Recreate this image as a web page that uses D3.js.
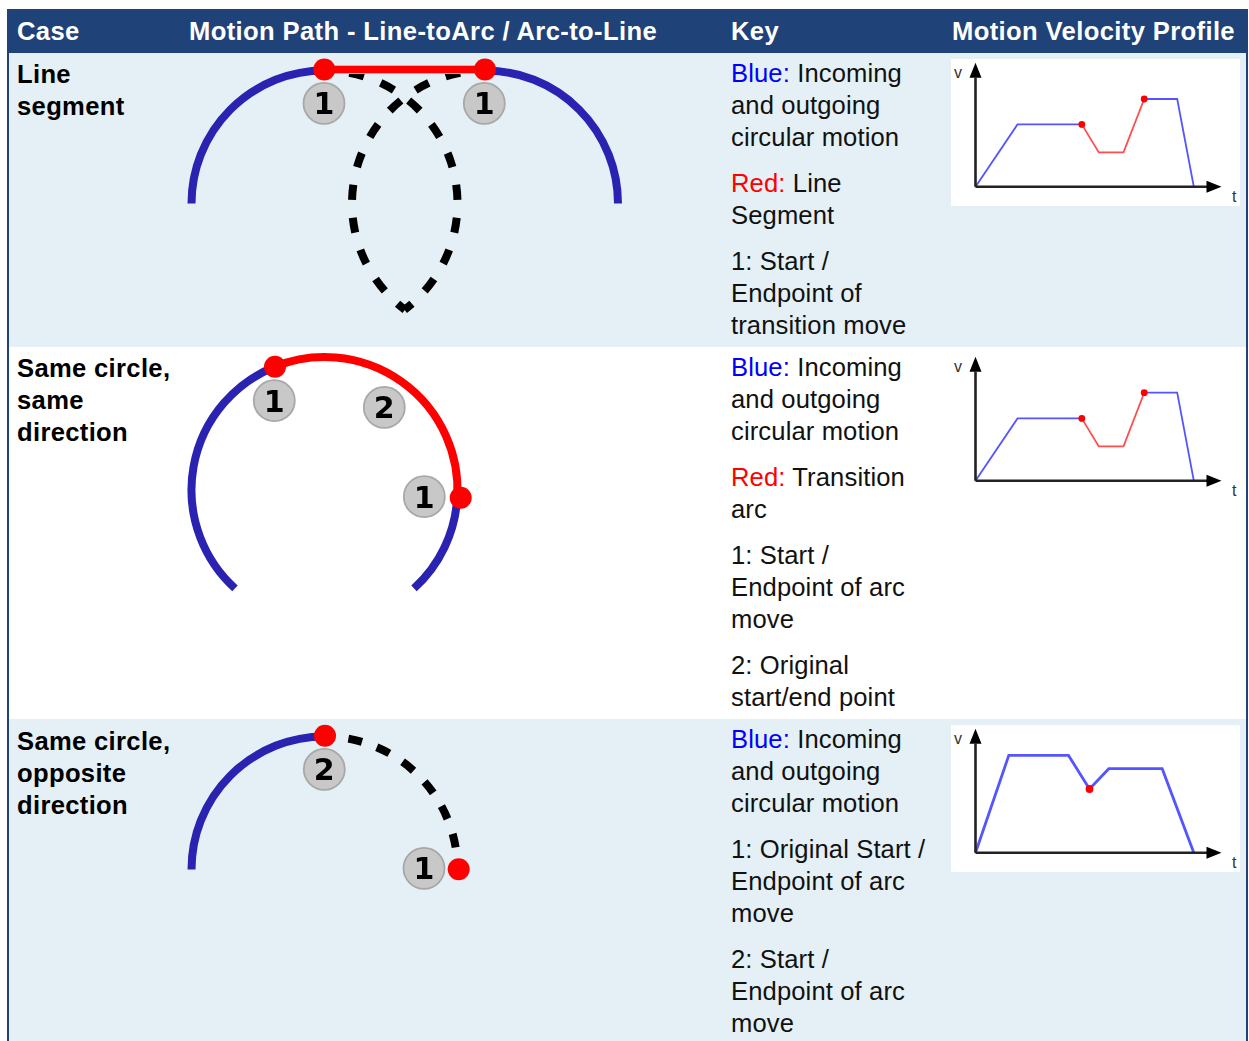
<!DOCTYPE html>
<html>
<head>
<meta charset="utf-8">
<script src="https://cdn.jsdelivr.net/npm/d3@7"></script>
<style>
html,body{margin:0;padding:0;background:#fff;overflow:hidden}
svg{display:block}
text{font-family:"Liberation Sans",Arial,sans-serif}
</style>
</head>
<body>
<div id="chart"></div>
<script>
// ---- table content ----
const headers = ["Case", "Motion Path - Line-toArc / Arc-to-Line", "Key", "Motion Velocity Profile"];
const caseLabels = [
  ["Line", "segment"],
  ["Same circle,", "same", "direction"],
  ["Same circle,", "opposite", "direction"]
];
const keyRow1 = [
  [["Blue:", "blue"], [" Incoming"]], [["and outgoing"]], [["circular motion"]], null,
  [["Red:", "red"], [" Line"]], [["Segment"]], null,
  [["1: Start /"]], [["Endpoint of"]], [["transition move"]]
];
const keyRow2 = [
  [["Blue:", "blue"], [" Incoming"]], [["and outgoing"]], [["circular motion"]], null,
  [["Red:", "red"], [" Transition"]], [["arc"]], null,
  [["1: Start /"]], [["Endpoint of arc"]], [["move"]], null,
  [["2: Original"]], [["start/end point"]]
];
const keyRow3 = [
  [["Blue:", "blue"], [" Incoming"]], [["and outgoing"]], [["circular motion"]], null,
  [["1: Original Start /"]], [["Endpoint of arc"]], [["move"]], null,
  [["2: Start /"]], [["Endpoint of arc"]], [["move"]]
];

// ---- velocity profiles: time, velocity ----
const timeRow1 = [0, 42, 106.3, 123.3, 148, 168.7, 201.7, 218.3];
const velRow1  = [0, 62.3, 62.3, 34.3, 34.3, 87.7, 87.7, 0];
const timeRow2 = [0, 42, 106.3, 123.3, 148, 168.7, 201.7, 218.3];
const velRow2  = [0, 62.3, 62.3, 34.3, 34.3, 88, 88, 0];
const timeRow3 = [0, 33.3, 93, 114, 133.3, 186.7, 218.3];
const velRow3  = [0, 97.3, 97.3, 63.7, 84, 84, 0];

// ---- arcs: angle in degrees clockwise from the top ----
const arcsRow1 = [
  {c: 0, from: -90, to: 0, kind: "solid"},
  {c: 1, from: 0, to: 90, kind: "solid"},
  {c: 0, from: 0, to: 143, kind: "dash"},
  {c: 1, from: -143, to: 0, kind: "dashRev"}
];
const arcsRow2 = [
  {c: 0, from: -137.7, to: -22, kind: "solid"},
  {c: 0, from: 93, to: 137.7, kind: "solid"},
  {c: 0, from: -22, to: 93, kind: "red"}
];
const arcsRow3 = [
  {c: 0, from: -90, to: 0, kind: "solid"},
  {c: 0, from: 0, to: 80.5, kind: "dash2"}
];
const badgeDigits = [["1", "1"], ["1", "2", "1"], ["2", "1"]];

// ---- layout ----
const W = 1249, H = 1041;
const C = {header: "#1f4279", band: "#e4f0f6", arc: "#2a22b0", red: "#ff0000",
           vBlue: "#5555ff", vRed: "#ff4d4d", badge: "#c8c8c8", badgeEdge: "#a8a8a8"};
const svg = d3.select("#chart").append("svg").attr("width", W).attr("height", H);
const defs = svg.append("defs");
defs.append("filter").attr("id", "soft").attr("x", "-5%").attr("y", "-5%").attr("width", "110%").attr("height", "110%")
  .append("feGaussianBlur").attr("stdDeviation", 0.55);

const tableL = 7, tableR = 1248;
const rows = [
  {y0: 53, y1: 347, bg: C.band, base: 83,  keyBase: 82,  key: keyRow1},
  {y0: 347, y1: 719, bg: "#fff", base: 377, keyBase: 376, key: keyRow2},
  {y0: 719, y1: 1041, bg: C.band, base: 750, keyBase: 748, key: keyRow3}
];
svg.selectAll("rect.row").data(rows).join("rect").attr("class", "row")
  .attr("x", tableL).attr("y", d => d.y0).attr("width", tableR - tableL).attr("height", d => d.y1 - d.y0)
  .attr("fill", d => d.bg);
svg.append("rect").attr("x", tableL).attr("y", 9).attr("width", tableR - tableL).attr("height", 44).attr("fill", C.header);
svg.append("rect").attr("x", tableL).attr("y", 9).attr("width", 2).attr("height", H).attr("fill", C.header);
svg.append("rect").attr("x", tableR - 2).attr("y", 9).attr("width", 2).attr("height", H).attr("fill", C.header);

// ---- header ----
const headerX = [17, 189, 731, 952];
svg.selectAll("text.head").data(headers).join("text").attr("class", "head")
  .attr("x", (d, i) => headerX[i]).attr("y", 40)
  .attr("font-size", 25.6).attr("font-weight", 700).attr("letter-spacing", 0.37).attr("fill", "#fff").text(d => d);

// ---- row text ----
const lineH = 32, paraGap = 14;
rows.forEach((r, i) => {
  svg.append("g").selectAll("text").data(caseLabels[i]).join("text")
    .attr("x", 17).attr("y", (d, j) => r.base + j * lineH)
    .attr("font-size", 25.6).attr("font-weight", 700).attr("letter-spacing", 0.33).attr("fill", "#000").text(d => d);
  let y = r.keyBase;
  r.key.forEach(line => {
    if (line === null) { y += paraGap; return; }
    const t = svg.append("text").attr("x", 731).attr("y", y).attr("font-size", 25.6).attr("letter-spacing", 0.12)
      .attr("fill", "#111").attr("xml:space", "preserve").style("white-space", "pre");
    line.forEach(seg => t.append("tspan").attr("fill", seg[1] || "#111").text(seg[0]));
    y += lineH;
  });
});

// ---- motion paths ----
const angle = d3.scaleLinear().domain([0, 360]).range([0, 2 * Math.PI]);
const R = 133;
function arcPath(cx, cy, a0, a1) {
  const p = d3.path();
  p.arc(cx, cy, R, angle(a0) - Math.PI / 2, angle(a1) - Math.PI / 2, false);
  return p.toString();
}
function arcPathRev(cx, cy, a0, a1) {
  const p = d3.path();
  p.arc(cx, cy, R, angle(a1) - Math.PI / 2, angle(a0) - Math.PI / 2, true);
  return p.toString();
}
const paths = [
  {arcs: arcsRow1, centers: [[324.5, 203.5], [485, 203.5]],
   badges: [[324, 103.3], [484.3, 103.3]], dots: [[324.3, 69.5], [485, 69.5]], link: [[324.3, 69.5], [485, 69.5]]},
  {arcs: arcsRow2, centers: [[324.5, 490]],
   badges: [[274.3, 400.7], [384.3, 407.3], [424.3, 496.7]], dots: [[275, 366.7], [460.7, 497.7]]},
  {arcs: arcsRow3, centers: [[324.5, 869.5]],
   badges: [[324.3, 769.3], [424, 868.3]], dots: [[325, 735.7], [458.7, 869.3]]}
];
paths.forEach((pt, i) => {
  const g = svg.append("g").attr("filter", "url(#soft)");
  pt.arcs.forEach(a => {
    const [cx, cy] = pt.centers[a.c];
    const s = g.append("path").attr("fill", "none")
      .attr("d", a.kind === "dashRev" ? arcPathRev(cx, cy, a.from, a.to) : arcPath(cx, cy, a.from, a.to));
    if (a.kind === "solid") s.attr("stroke", C.arc).attr("stroke-width", 8);
    if (a.kind === "red") s.attr("stroke", C.red).attr("stroke-width", 8);
    if (a.kind === "dash" || a.kind === "dashRev")
      s.attr("stroke", "#000").attr("stroke-width", 8).attr("stroke-dasharray", "15 18").attr("stroke-dashoffset", -25);
    if (a.kind === "dash2")
      s.attr("stroke", "#000").attr("stroke-width", 8).attr("stroke-dasharray", "14 15.7").attr("stroke-dashoffset", -24);
  });
  if (pt.link) {
    g.append("path").attr("d", d3.line()(pt.link)).attr("stroke", "#d8b0b0").attr("stroke-width", 9);
    g.append("path").attr("d", d3.line()(pt.link)).attr("stroke", C.red).attr("stroke-width", 7);
  }
  g.selectAll("circle.dot").data(pt.dots).join("circle").attr("class", "dot")
    .attr("cx", d => d[0]).attr("cy", d => d[1]).attr("r", 11).attr("fill", C.red);
  const b = g.selectAll("g.badge").data(pt.badges).join("g").attr("class", "badge")
    .attr("transform", d => `translate(${d[0]},${d[1]})`);
  b.append("circle").attr("r", 20.5).attr("fill", C.badge).attr("stroke", C.badgeEdge).attr("stroke-width", 1.8);
  b.append("text").attr("text-anchor", "middle").attr("y", 11)
    .attr("font-size", 30).attr("font-weight", 700).attr("fill", "#000")
    .style("font-family", "'DejaVu Sans'")
    .text((d, j) => badgeDigits[i][j]);
});

// ---- velocity profiles ----
const panels = [
  {box: [951, 59, 289, 147], ox: 975.5, oy: 186.7, t: timeRow1, v: velRow1, redFrom: 2, redTo: 5, w: 1.8, dots: [2, 5], r: 3.4},
  {box: [951, 353, 289, 147], ox: 975.5, oy: 480.7, t: timeRow2, v: velRow2, redFrom: 2, redTo: 5, w: 1.8, dots: [2, 5], r: 3.4},
  {box: [951, 725, 289, 147], ox: 975.5, oy: 852.7, t: timeRow3, v: velRow3, redFrom: -1, redTo: -1, w: 2.8, dots: [3], r: 3.9}
];
panels.forEach(p => {
  const g = svg.append("g").attr("filter", "url(#soft)");
  svg.insert("rect", "g").attr("x", p.box[0]).attr("y", p.box[1]).attr("width", p.box[2]).attr("height", p.box[3]).attr("fill", "#fff");
  const x = d3.scaleLinear().domain([0, 246]).range([p.ox, p.ox + 246]);
  const y = d3.scaleLinear().domain([0, 124]).range([p.oy, p.oy - 124]);
  const pts = p.t.map((t, i) => [x(t), y(p.v[i])]);
  const line = d3.line();
  if (p.redFrom < 0) {
    g.append("path").attr("d", line(pts)).attr("fill", "none").attr("stroke", C.vBlue).attr("stroke-width", p.w);
  } else {
    g.append("path").attr("d", line(pts.slice(0, p.redFrom + 1))).attr("fill", "none").attr("stroke", C.vBlue).attr("stroke-width", p.w);
    g.append("path").attr("d", line(pts.slice(p.redFrom, p.redTo + 1))).attr("fill", "none").attr("stroke", C.vRed).attr("stroke-width", p.w);
    g.append("path").attr("d", line(pts.slice(p.redTo))).attr("fill", "none").attr("stroke", C.vBlue).attr("stroke-width", p.w);
  }
  // axes
  g.append("path").attr("d", line([[x(0), y(0)], [x(232), y(0)]])).attr("stroke", "#222").attr("stroke-width", 2.6);
  g.append("path").attr("d", line([[x(0), y(0)], [x(0), y(109)]])).attr("stroke", "#222").attr("stroke-width", 2.6);
  g.append("path").attr("d", line([[x(246), y(0)], [x(231), y(-6)], [x(231), y(6)]]) + "Z").attr("fill", "#000");
  g.append("path").attr("d", line([[x(0), y(124)], [x(-6), y(109)], [x(6), y(109)]]) + "Z").attr("fill", "#000");
  g.selectAll("circle").data(p.dots).join("circle")
    .attr("cx", i => pts[i][0]).attr("cy", i => pts[i][1]).attr("r", p.r).attr("fill", C.red);
  svg.append("text").attr("x", 954).attr("y", p.oy - 109).attr("font-size", 16).attr("fill", "#333").text("v");
  svg.append("text").attr("x", 1232).attr("y", p.oy + 15).attr("font-size", 16).attr("fill", "#333").text("t");
});
</script>
</body>
</html>
